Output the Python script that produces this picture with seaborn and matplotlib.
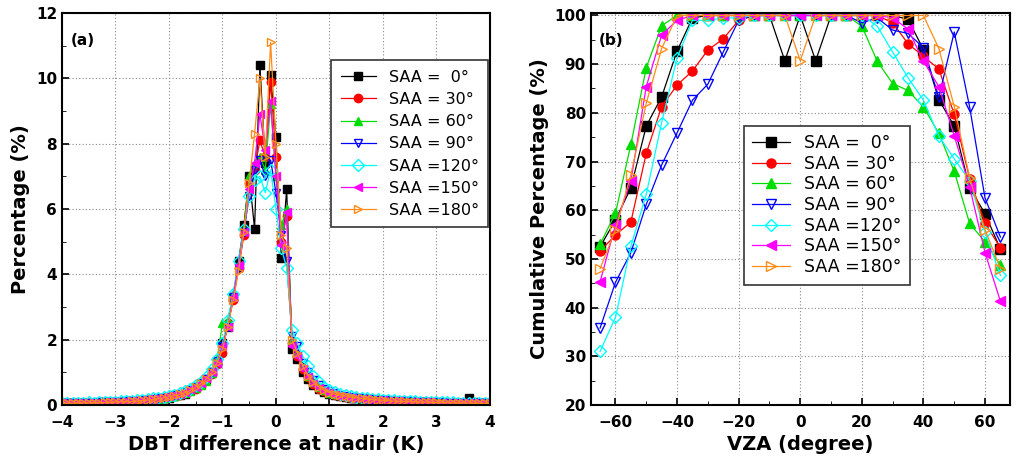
import matplotlib
matplotlib.use("Agg")
import matplotlib.pyplot as plt
import seaborn as sns
from matplotlib.ticker import MultipleLocator

# ---------------- data ----------------
labels = ["SAA =  0°", "SAA = 30°", "SAA = 60°", "SAA = 90°", "SAA =120°", "SAA =150°", "SAA =180°"]
colors = ["black", "red", "#00dd00", "blue", "cyan", "magenta", "#ff8c1a"]
markers = ["s", "o", "^", "v", "D", "<", ">"]
filled = [True, True, True, False, False, True, False]

dbt = [round(-4 + 0.1 * i, 1) for i in range(81)]
pct_0 = [0.05,0.05,0.05,0.05,0.06,0.05,0.07,0.06,0.08,0.07,
         0.08,0.1,0.09,0.12,0.1,0.13,0.15,0.14,0.18,0.2,
         0.22,0.28,0.3,0.35,0.45,0.55,0.65,0.8,1.0,1.3,
         1.9,2.4,3.3,4.4,5.5,7.0,5.4,10.4,7.4,10.1,
         8.2,4.5,6.6,1.7,1.4,1.0,0.8,0.6,0.5,0.4,
         0.35,0.3,0.28,0.25,0.22,0.2,0.18,0.17,0.15,0.14,
         0.13,0.12,0.11,0.1,0.1,0.09,0.09,0.08,0.08,0.07,
         0.07,0.07,0.06,0.06,0.06,0.05,0.2,0.1,0.05,0.05,0.04]
pct_30 = [0.04,0.05,0.05,0.06,0.05,0.06,0.06,0.07,0.07,0.08,
          0.09,0.09,0.1,0.11,0.12,0.13,0.14,0.16,0.18,0.21,
          0.25,0.27,0.32,0.38,0.42,0.5,0.62,0.78,0.95,1.25,
          1.6,2.5,3.2,4.2,5.2,6.8,7.2,8.1,7.6,9.9,
          7.6,5.0,5.8,1.9,1.5,1.1,0.85,0.65,0.5,0.42,
          0.36,0.32,0.29,0.26,0.23,0.21,0.19,0.17,0.16,0.15,
          0.14,0.13,0.12,0.11,0.1,0.1,0.09,0.09,0.08,0.08,
          0.07,0.07,0.07,0.06,0.06,0.06,0.05,0.06,0.05,0.05,0.04]
pct_60 = [0.05,0.05,0.06,0.05,0.06,0.07,0.06,0.07,0.08,0.08,
          0.09,0.1,0.1,0.11,0.12,0.14,0.15,0.17,0.19,0.22,
          0.24,0.28,0.33,0.37,0.44,0.52,0.6,0.75,0.98,1.4,
          2.5,2.6,3.4,4.3,5.4,7.0,7.4,7.6,7.2,9.2,
          7.0,5.5,6.0,2.0,1.6,1.2,0.9,0.7,0.55,0.45,
          0.38,0.33,0.3,0.27,0.24,0.22,0.2,0.18,0.17,0.15,
          0.14,0.13,0.12,0.12,0.11,0.1,0.1,0.09,0.09,0.08,
          0.08,0.07,0.07,0.07,0.06,0.06,0.06,0.05,0.05,0.05,0.1]
pct_90 = [0.05,0.06,0.05,0.06,0.06,0.07,0.07,0.08,0.08,0.09,
          0.1,0.1,0.11,0.12,0.13,0.15,0.16,0.18,0.2,0.23,
          0.26,0.3,0.34,0.4,0.46,0.55,0.66,0.8,1.0,1.35,
          1.8,2.4,3.3,4.2,5.3,6.4,7.2,7.5,7.0,7.5,
          6.5,5.2,4.4,2.1,1.8,1.3,1.0,0.78,0.6,0.5,
          0.42,0.36,0.32,0.28,0.25,0.23,0.21,0.19,0.17,0.16,
          0.15,0.14,0.13,0.12,0.11,0.11,0.1,0.1,0.09,0.09,
          0.08,0.08,0.07,0.07,0.07,0.06,0.06,0.06,0.05,0.05,0.05]
pct_120 = [0.06,0.06,0.07,0.06,0.07,0.08,0.07,0.08,0.09,0.09,
           0.1,0.11,0.12,0.13,0.14,0.16,0.18,0.2,0.22,0.25,
           0.28,0.32,0.36,0.42,0.5,0.6,0.7,0.85,1.1,1.4,
           1.9,2.6,3.4,4.4,5.4,6.4,6.9,7.0,6.5,7.2,
           6.0,4.8,4.2,2.3,1.9,1.5,1.2,0.9,0.7,0.55,
           0.46,0.4,0.35,0.3,0.27,0.24,0.22,0.2,0.18,0.17,
           0.16,0.15,0.14,0.13,0.12,0.11,0.11,0.1,0.1,0.09,
           0.09,0.08,0.08,0.08,0.07,0.07,0.07,0.06,0.06,0.06,0.05]
pct_150 = [0.05,0.05,0.06,0.06,0.06,0.07,0.07,0.07,0.08,0.09,
           0.09,0.1,0.11,0.12,0.13,0.15,0.17,0.19,0.21,0.24,
           0.27,0.3,0.35,0.4,0.48,0.56,0.68,0.82,1.0,1.3,
           1.8,2.4,3.3,4.3,5.3,6.6,7.4,8.9,7.8,9.3,
           7.0,4.9,5.9,1.8,1.5,1.1,0.85,0.65,0.52,0.43,
           0.37,0.32,0.29,0.26,0.23,0.21,0.19,0.17,0.16,0.15,
           0.14,0.13,0.12,0.11,0.1,0.1,0.09,0.09,0.08,0.08,
           0.07,0.07,0.07,0.06,0.06,0.06,0.05,0.05,0.05,0.05,0.04]
pct_180 = [0.05,0.05,0.05,0.06,0.06,0.06,0.07,0.07,0.08,0.08,
           0.09,0.1,0.1,0.11,0.12,0.14,0.15,0.17,0.19,0.22,
           0.25,0.29,0.33,0.38,0.45,0.55,0.66,0.8,1.0,1.3,
           1.7,2.4,3.2,4.1,5.3,6.8,8.3,10.0,7.6,11.1,
           8.0,5.2,4.8,2.0,1.6,1.2,0.9,0.7,0.55,0.45,
           0.38,0.33,0.3,0.27,0.24,0.22,0.2,0.18,0.17,0.15,
           0.14,0.13,0.12,0.11,0.11,0.1,0.1,0.09,0.09,0.08,
           0.08,0.07,0.07,0.07,0.06,0.06,0.06,0.05,0.05,0.05,0.05]
pct_series = [pct_0, pct_30, pct_60, pct_90, pct_120, pct_150, pct_180]

vza = list(range(-65, 70, 5))
cum_0 = [52.5,58,64.6,77.3,83.3,92.7,99.5,100,100,100,100,100,90.7,100,90.7,100,100,100,100,100,99.2,93,82.7,77.3,64.6,59.3,52]
cum_30 = [51.6,54.9,57.6,71.7,81.3,85.7,88.6,92.9,95.2,99,100,100,100,100,100,100,100,100,100,98.5,94.2,91.6,89,79.7,66.5,57.3,52.3]
cum_60 = [53,59.4,73.5,89.3,97.9,100,100,100,100,100,100,100,100,100,100,100,100,97.8,90.6,86,84.6,81.2,75.8,68,57.3,53.5,48.7]
cum_90 = [35.8,45.2,51.3,61.2,69.3,75.9,82.6,85.9,92.5,99,100,100,100,100,100,100,100,98.5,99.5,97,96.3,93.4,83.2,96.6,81.2,62.5,54.5]
cum_120 = [31,38,52.6,63.3,78,91.3,99,99,99.5,99.5,100,100,100,100,100,100,100,100,97.8,92.5,87.2,82.6,75.2,70.6,66,55.5,46.6]
cum_150 = [45.3,57,66,85.4,96,99,100,100,100,100,100,100,100,100,100,100,100,100,100,99.5,97.2,90.6,85.4,75.3,64.8,51.3,41.3]
cum_180 = [48,56,67.3,82,93.2,100,100,100,100,100,100,100,100,90.7,100,100,100,100,100,100,100,100,93.2,81.3,66.7,56,48]
cum_series = [cum_0, cum_30, cum_60, cum_90, cum_120, cum_150, cum_180]

# ---------------- plot ----------------
fig = plt.figure(figsize=(10.24, 4.65), dpi=100)
axa = fig.add_axes([0.0605, 0.129, 0.418, 0.843])
axb = fig.add_axes([0.577, 0.129, 0.409, 0.843])

def draw(ax, x, ys, ms):
    for y, lab, c, m, f in zip(ys, labels, colors, markers, filled):
        sns.lineplot(x=x, y=y, ax=ax, color=c, marker=m, label=lab, lw=0.9,
                     markersize=ms, markeredgecolor=c,
                     markerfacecolor=(c if f else "none"), markeredgewidth=1.0,
                     sort=False, estimator=None)

draw(axa, dbt, pct_series, 6)
draw(axb, vza, cum_series, 6.5)

bold = dict(fontsize=14, fontweight="bold")
axa.set_xlim(-4, 4); axa.set_ylim(0, 12)
axa.xaxis.set_major_locator(MultipleLocator(1)); axa.xaxis.set_minor_locator(MultipleLocator(0.5))
axa.yaxis.set_major_locator(MultipleLocator(2)); axa.yaxis.set_minor_locator(MultipleLocator(1))
axa.set_xlabel("DBT difference at nadir (K)", **bold)
axa.set_ylabel("Percentage (%)", **bold)
axa.text(0.02, 0.95, "(a)", transform=axa.transAxes, fontsize=11, fontweight="bold", va="top")

axb.set_xlim(-68, 68); axb.set_ylim(20, 100.5)
axb.xaxis.set_major_locator(MultipleLocator(20)); axb.xaxis.set_minor_locator(MultipleLocator(10))
axb.yaxis.set_major_locator(MultipleLocator(10)); axb.yaxis.set_minor_locator(MultipleLocator(5))
axb.set_xlabel("VZA (degree)", **bold)
axb.set_ylabel("Cumulative Percentage (%)", **bold)
axb.text(0.02, 0.95, "(b)", transform=axb.transAxes, fontsize=11, fontweight="bold", va="top")

for ax in (axa, axb):
    ax.grid(True, which="major", linestyle=(0, (1, 2)), color="#888888", lw=0.8)
    ax.tick_params(which="both", direction="in", top=False, right=False)
    ax.tick_params(which="major", length=5, width=1.2, labelsize=11)
    ax.tick_params(axis="x", which="major", pad=7)
    ax.tick_params(which="minor", length=3)
    for t in ax.get_xticklabels() + ax.get_yticklabels():
        t.set_fontweight("bold")
    for s in ax.spines.values():
        s.set_linewidth(1.5)

la = axa.legend(loc="upper left", bbox_to_anchor=(0.61, 0.90), fontsize=11.5,
                fancybox=False, edgecolor="#333333", framealpha=1, handlelength=2.2,
                labelspacing=0.45, borderpad=0.6)
lb = axb.legend(loc="upper left", bbox_to_anchor=(0.344, 0.735), fontsize=12.5,
                fancybox=False, edgecolor="#333333", framealpha=1, handlelength=2.2,
                labelspacing=0.15, borderpad=0.5)
for lg in (la, lb):
    lg.get_frame().set_linewidth(1.2)

fig.savefig("out.png", dpi=100)
